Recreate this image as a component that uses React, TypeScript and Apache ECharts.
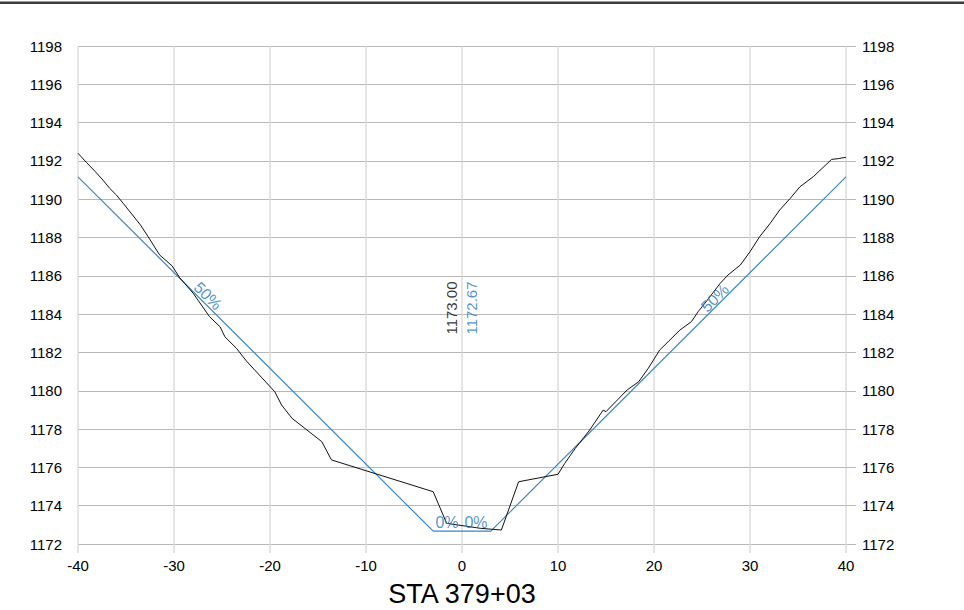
import React, { useEffect, useRef } from "react";
import * as echarts from "echarts";

const groundX = [-40, -39.1, -38.2, -37.4, -36.7, -36.0, -35.3, -34.4, -33.5, -32.7, -31.5, -30.2, -29.4, -28.0, -26.3, -25.2, -24.7, -23.5, -22.4, -19.5, -18.8, -17.7, -14.6, -13.6, -3.0, -1.6, 1.9, 4.1, 5.9, 10.0, 10.7, 11.8, 13.3, 14.7, 15.0, 17.2, 18.4, 19.4, 20.6, 22.7, 23.9, 24.6, 25.3, 26.9, 27.7, 29.0, 30.0, 31.0, 32.1, 33.1, 34.2, 35.2, 36.6, 38.5, 39.2, 40];
const groundY = [1192.40, 1191.91, 1191.44, 1191.0, 1190.57, 1190.22, 1189.79, 1189.23, 1188.66, 1188.05, 1187.09, 1186.52, 1185.90, 1185.09, 1183.87, 1183.34, 1182.82, 1182.22, 1181.52, 1179.95, 1179.26, 1178.56, 1177.34, 1176.39, 1174.73, 1173.08, 1172.82, 1172.73, 1175.25, 1175.64, 1176.21, 1176.99, 1177.95, 1178.99, 1178.91, 1180.04, 1180.47, 1181.17, 1182.13, 1183.17, 1183.61, 1184.13, 1184.57, 1185.61, 1186.04, 1186.57, 1187.26, 1188.04, 1188.74, 1189.44, 1190.05, 1190.65, 1191.18, 1192.08, 1192.12, 1192.19];

const designX = [-40, -3, 3, 40];
const designY = [1191.17, 1172.67, 1172.67, 1191.17];

const xTicks = { min: -40, max: 40, interval: 10 };
const yTicks = { min: 1172, max: 1198, interval: 2 };

const stationLabel = "STA 379+03";
const groundElevText = "1173.00";
const designElevText = "1172.67";

// annotations: [x, y, text, rotation, colorKey]
const annotations: [number, number, string, number, string][] = [
  [-1.07, 1184.32, groundElevText, 90, "ground"],
  [0.99, 1184.32, designElevText, 90, "design"],
  [-26.46, 1184.95, "50%", -45, "design"],
  [26.35, 1184.84, "50%", 45, "design"],
  [-1.56, 1173.1, "0%", 0, "design"],
  [1.46, 1173.1, "0%", 0, "design"],
];

const BLUE = "#3a86c8";
const BLUE_TEXT = "#2a78c0";
const FONT = "'Liberation Sans', Arial, sans-serif";

export default function App() {
  const ref = useRef<HTMLDivElement>(null);
  useEffect(() => {
    if (!ref.current) return;
    const chart = echarts.init(ref.current, undefined, { renderer: "svg" });
    const yAxisCommon = {
      type: "value",
      min: yTicks.min,
      max: yTicks.max,
      interval: yTicks.interval,
      axisLine: { show: false },
      axisTick: { show: true, length: 10, lineStyle: { color: "#b8b8b8", width: 1 } },
      axisLabel: {
        margin: 16,
        color: "#000",
        fontSize: 15,
        fontFamily: FONT,
        formatter: (v: number) => String(v),
      },
    };
    chart.setOption({
      animation: false,
      backgroundColor: "#fff",
      textStyle: { fontFamily: FONT },
      grid: { left: 78, right: 118, top: 46, bottom: 66, containLabel: false, outerBoundsMode: "none" },
      graphic: [
        { type: "rect", shape: { x: 0, y: 1.5, width: 964, height: 2.5 }, style: { fill: "#3c3c3c" }, silent: true },
      ],
      xAxis: {
        type: "value",
        min: xTicks.min,
        max: xTicks.max,
        interval: xTicks.interval,
        name: stationLabel,
        nameLocation: "middle",
        nameGap: 36,
        nameTextStyle: { fontSize: 27, color: "#000", fontFamily: FONT },
        axisLine: { show: false },
        axisTick: { show: true, length: 9, lineStyle: { color: "#dcdcdc", width: 1.5 } },
        axisLabel: { margin: 14, color: "#000", fontSize: 15, fontFamily: FONT, formatter: (v: number) => String(v) },
        splitLine: { show: true, lineStyle: { color: "#dcdcdc", width: 1.5 } },
      },
      yAxis: [
        { ...yAxisCommon, position: "left", splitLine: { show: true, lineStyle: { color: "#b8b8b8", width: 1 } } },
        { ...yAxisCommon, position: "right", splitLine: { show: false } },
      ],
      series: [
        {
          type: "line",
          data: groundX.map((x, i) => [x, groundY[i]]),
          showSymbol: false,
          symbol: "none",
          lineStyle: { color: "#111", width: 1 },
          silent: true,
          z: 3,
        },
        {
          type: "line",
          data: designX.map((x, i) => [x, designY[i]]),
          showSymbol: false,
          symbol: "none",
          lineStyle: { color: BLUE, width: 1.2 },
          silent: true,
          z: 2,
        },
        {
          type: "scatter",
          symbolSize: 0,
          silent: true,
          z: 4,
          data: annotations.map(([x, y, text, rot, key]) => ({
            value: [x, y],
            label: {
              show: true,
              position: "inside",
              formatter: text,
              rotate: rot,
              fontSize: rot === 90 ? 15 : 16,
              color: key === "ground" ? "#000" : BLUE_TEXT,
              fontFamily: FONT,
              align: "center",
              verticalAlign: "middle",
            },
          })),
        },
      ],
    });
    return () => chart.dispose();
  }, []);
  return (
    <div
      ref={ref}
      style={{ position: "absolute", left: 0, top: 0, width: 964, height: 610 }}
    />
  );
}
